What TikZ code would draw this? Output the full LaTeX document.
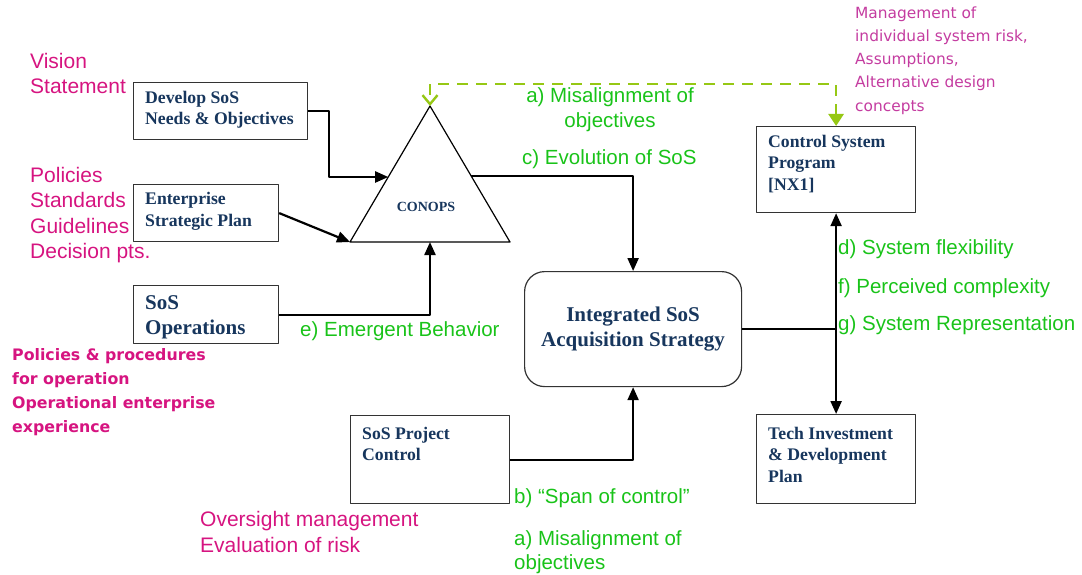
\documentclass[tikz,border=0pt]{standalone}
\usepackage{fontspec}
\setmainfont{Liberation Serif}
\newfontfamily\labelfont{Liberation Sans}
\newfontfamily\notefont{DejaVu Sans}
\usetikzlibrary{arrows.meta,calc}
\definecolor{boxblue}{RGB}{23,54,93}
\definecolor{inpink}{RGB}{214,20,128}
\definecolor{notepink}{RGB}{196,60,160}
\definecolor{issuegreen}{RGB}{25,195,25}
\definecolor{dashlime}{RGB}{150,200,20}
\tikzset{
  blk/.style={draw=black!80, line width=1.2pt, fill=white, anchor=north west, inner sep=0pt},
  txt/.style={inner sep=0pt, anchor=west, align=left},
  boxlbl/.style={txt, text=boxblue, font=\fontsize{17.7pt}{21.5pt}\selectfont\bfseries},
  biglbl/.style={txt, text=boxblue, font=\fontsize{21pt}{24.5pt}\selectfont\bfseries},
  inlbl/.style={txt, text=inpink, font=\labelfont\fontsize{21pt}{25.3pt}\selectfont},
  oplbl/.style={txt, text=inpink, font=\notefont\bfseries\fontsize{15.8pt}{24pt}\selectfont},
  issue/.style={txt, text=issuegreen, font=\labelfont\fontsize{20.5pt}{24.5pt}\selectfont},
  arr/.style={line width=2.2pt, -{Triangle[length=13pt,width=11pt]}},
  gdash/.style={draw=dashlime, line width=2.6pt, dash pattern=on 11pt off 8pt}
}
\begin{document}
\begin{tikzpicture}[x=1pt, y=-1pt, line join=round]
  \useasboundingbox (0,0) rectangle (1082,575);

  % boxes
  \node[blk, minimum width=174pt, minimum height=57pt] (dev) at (133,82) {};
  \node[blk, minimum width=145pt, minimum height=57pt] (ent) at (133,184) {};
  \node[blk, minimum width=145pt, minimum height=58pt] (ops) at (133,285) {};
  \node[blk, minimum width=159pt, minimum height=88pt] (proj) at (350,415) {};
  \node[blk, minimum width=159pt, minimum height=86pt] (ctl) at (756,126) {};
  \node[blk, minimum width=159pt, minimum height=89pt] (tech) at (756,414) {};
  \node[blk, rounded corners=20pt, minimum width=217pt, minimum height=115pt] (isa) at (524,271) {};

  % CONOPS triangle
  \coordinate (cL) at (350,242);
  \coordinate (cR) at (510,242);
  \coordinate (cT) at (430,106);
  \draw[line width=1.2pt] (cL) -- (cT) -- (cR) -- cycle;

  \node[boxlbl] (devT) at (145,109.5) {Develop SoS\\Needs \& Objectives};
  \node[boxlbl] (entT) at (145,211.5) {Enterprise\\Strategic Plan};
  \node[biglbl] (opsT) at (145,317.5) {SoS\\Operations};
  \node[inner sep=0pt, text=boxblue, font=\fontsize{14pt}{16pt}\selectfont\bfseries] (conT) at (426,207) {CONOPS};
  \node[biglbl, anchor=center, align=center] (isaT) at (isa.center) {Integrated SoS\\Acquisition Strategy};
  \node[boxlbl] (projT) at (362,444) {SoS Project\\Control};
  \node[boxlbl] (ctlT) at (768,164) {Control System\\Program\\{[NX1]}};
  \node[boxlbl] (techT) at (768,454.5) {Tech Investment\\\& Development\\Plan};

  % connectors
  \draw[arr] (dev.east) -- ++(21,0) |- ($(cL)!0.478!(cT)$);
  \draw[arr] (ent.east) -- (cL);
  \draw[arr] (ops.east) -| ($(cL)!0.5!(cR)$);
  \draw[arr] ($(cR)!0.485!(cT)$) -| (isa.north);
  \draw[arr] (proj.east) -| (isa.south);
  \draw[line width=2.2pt] (isa.east) -- (isa.east -| ctl.south);
  \draw[line width=2.2pt, {Triangle[length=13pt,width=11pt]}-{Triangle[length=13pt,width=11pt]}] (ctl.south) -- (tech.north);
  \draw[gdash, {Triangle[length=12pt,width=15pt]}-{Straight Barb[length=9pt,width=15pt,line width=2.4pt]}]
    (ctl.north) -- ++(0,-42) -| (cT);

  % inputs
  \node[inlbl] (vis) at (30,73.5) {Vision\\Statement};
  \node[inlbl] (pol) at (30,215) {Policies\\Standards\\Guidelines\\Decision pts.};
  \node[oplbl] (proc) at (12,392) {Policies \& procedures\\for operation\\Operational enterprise\\experience};
  \node[inlbl] (ovs) at (200,532) {Oversight management\\Evaluation of risk};
  \node[txt, text=notepink, font=\notefont\fontsize{15.4pt}{23.2pt}\selectfont] (mgmt) at (855,60.5)
    {Management of\\individual system risk,\\Assumptions,\\Alternative design\\concepts};

  % issues
  \node[issue, anchor=center, align=center] (misT) at (610,109.5) {a) Misalignment of\\objectives};
  \node[issue] (evo) at (522,159) {c) Evolution of SoS};
  \node[issue] (emg) at (300,331) {e) Emergent Behavior};
  \node[issue] (flx) at (838,249) {d) System flexibility};
  \node[issue] (cpx) at (838,288) {f) Perceived complexity};
  \node[issue] (rep) at (838,325) {g) System Representation};
  \node[issue] (span) at (514,498) {b) “Span of control”};
  \node[issue] (misB) at (514,552) {a) Misalignment of\\objectives};
\end{tikzpicture}
\end{document}
